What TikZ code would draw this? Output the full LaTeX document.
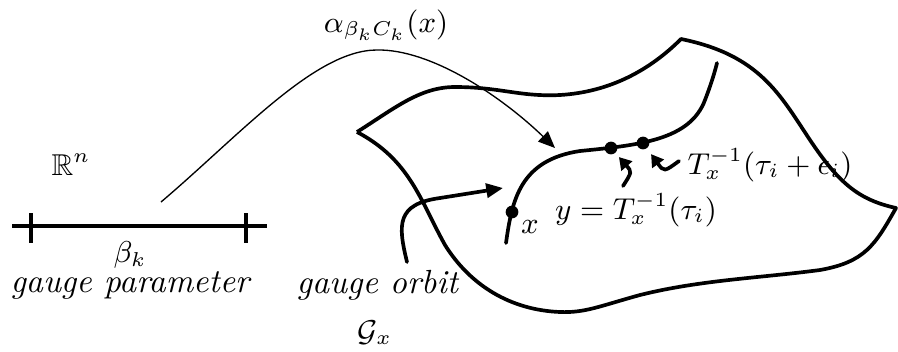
\documentclass[tikz,border=0pt]{standalone}
\usepackage{amsmath,amssymb}
\usetikzlibrary{arrows.meta,positioning}

\begin{document}
\begin{tikzpicture}[x=0.0105cm,y=-0.0105cm,
  surf/.style={line width=1.1pt, line join=round},
  orbitline/.style={line width=1.1pt, line cap=round},
  pt/.style={circle, fill, inner sep=0pt, minimum size=3.8pt},
  lbl/.style={inner sep=0.5pt},
  mlbl/.style={inner sep=0.5pt, font=\small},
  bighead/.style={-{Triangle[length=5pt,width=4.2pt]}},
  smallhead/.style={-{Triangle[length=3.6pt,width=4.2pt]}}]
  \useasboundingbox (0,0) rectangle (898,351);

  % the surface
  \draw[surf] (357,132) .. controls (395,108) and (420,87) .. (455,87)
    .. controls (500,87) and (520,97) .. (560,95)
    .. controls (610,92) and (650,70) .. (681,39)
    .. controls (760,55) and (780,95) .. (810,140)
    .. controls (840,185) and (860,200) .. (896,208)
    .. controls (875,245) and (865,262) .. (820,270)
    .. controls (760,278) and (700,280) .. (640,295)
    .. controls (600,306) and (585,313) .. (560,312)
    .. controls (510,310) and (470,285) .. (445,245)
    .. controls (420,200) and (410,160) .. (357,132);

  % gauge orbit through x
  \draw[orbitline] (506,243) .. controls (512,200) and (520,160) .. (580,151)
    .. controls (640,145) and (690,140) .. (705,100)
    .. controls (710,87) and (714,75) .. (717,63);
  \node[pt] (x) at (512,212) {};
  \node[pt] (y) at (611,148) {};
  \node[pt] (ye) at (643,143) {};

  % parameter segment
  \coordinate (segL) at (12,226);
  \coordinate (segR) at (267,226);
  \draw[orbitline, line cap=butt] (segL) -- (segR);
  \foreach \tx in {31,246}
    \draw[orbitline, line cap=butt] (\tx,213) -- (\tx,243);

  % labels
  \node[mlbl] (rn) at (71,165) {$\mathbb{R}^n$};
  \node[mlbl] (beta) at (130,255) {$\beta_k$};
  \node[lbl] (gp) at (131,285) {\textit{gauge parameter}};
  \node[lbl] (go) at (378,285) {\textit{gauge orbit}};
  \node[mlbl] (gx) at (375,333) {$\mathcal{G}_x$};
  \node[mlbl] (alpha) at (386,25) {$\alpha_{\beta_k C_k}(x)$};
  \node[mlbl] (xl) at (530,227) {$x$};
  \node[mlbl] (yl) at (636,210) {$y = T_x^{-1}(\tau_i)$};
  \node[mlbl] (el) at (770,165) {$T_x^{-1}(\tau_i + \epsilon_i)$};

  % the map alpha
  \coordinate (aStart) at (161,202);
  \coordinate (aEnd) at (555,148);
  \draw[bighead] (aStart) .. controls (240,135) and (315,50) .. (377,50)
    .. controls (430,49) and (500,95) .. (aEnd);

  % arrow from the orbit label
  \coordinate (goStart) at (407,262);
  \coordinate (goEnd) at (503,188);
  \draw[orbitline, bighead] (goStart) .. controls (398,225) and (396,204) .. (440,198) -- (goEnd);

  % pointers to the two points
  \coordinate (yStart) at (623,186);
  \coordinate (eStart) at (679,161);
  \draw[orbitline, smallhead, shorten >=1.5pt] (yStart) .. controls (632,172) .. (y);
  \draw[orbitline, smallhead, shorten >=2pt] (eStart) .. controls (664,172) .. (ye);
\end{tikzpicture}
\end{document}
